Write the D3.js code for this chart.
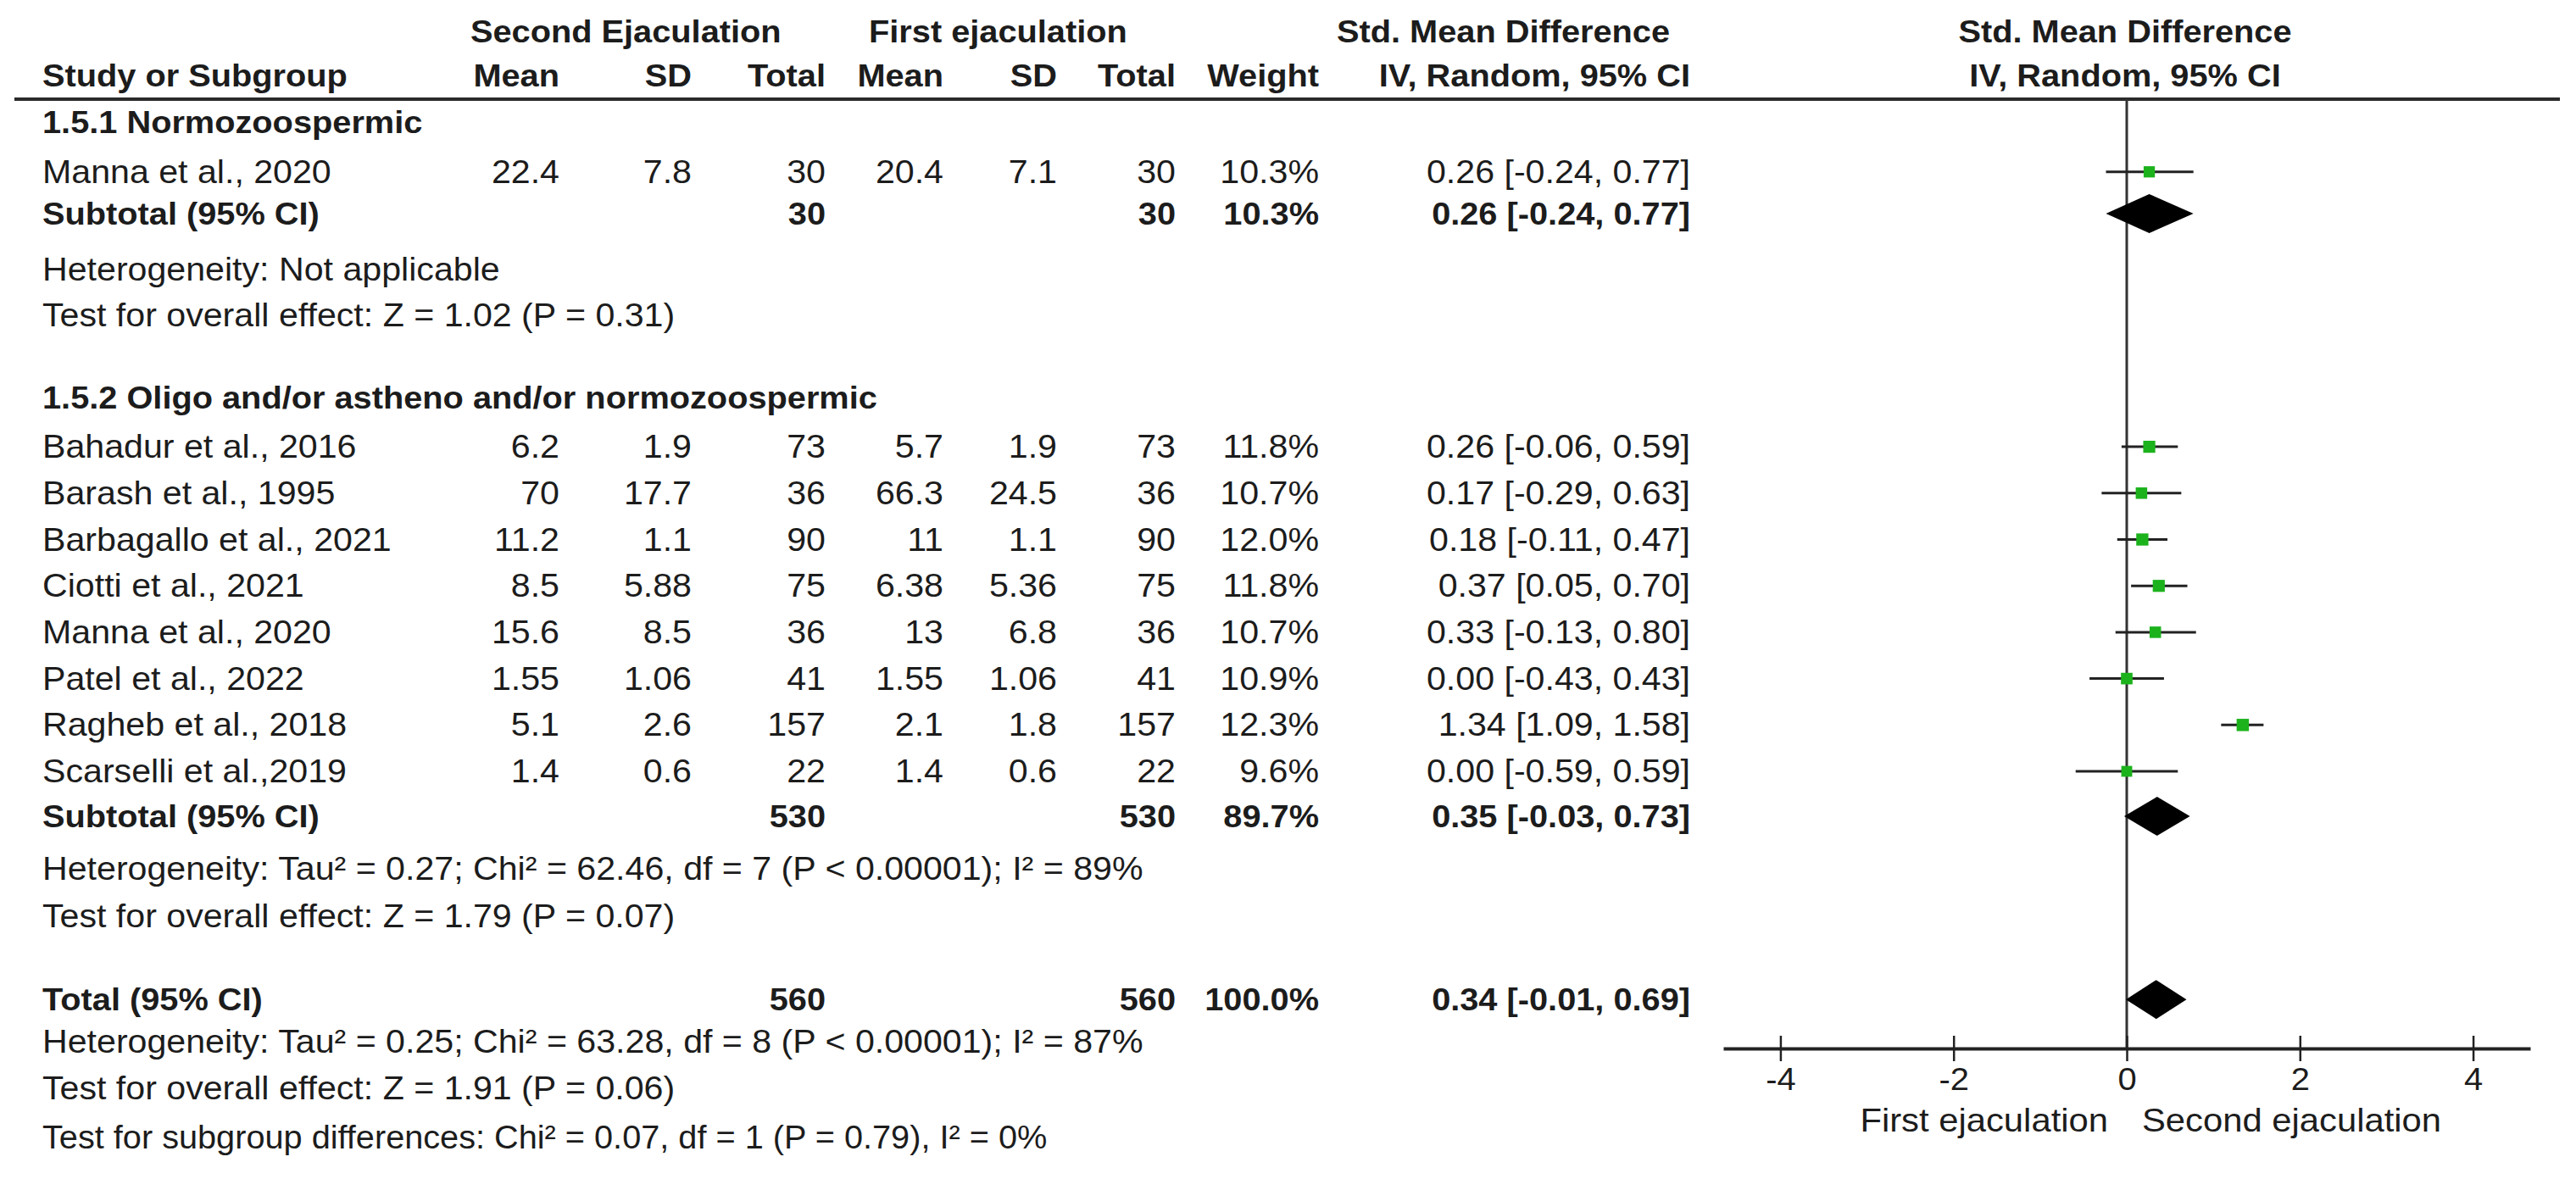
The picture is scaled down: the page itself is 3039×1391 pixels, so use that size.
<!DOCTYPE html>
<html><head><meta charset="utf-8">
<script src="https://cdn.jsdelivr.net/npm/d3@7"></script>
<style>
html,body{margin:0;padding:0;background:#fff;}
svg{display:block;background:#fff;}
text{font-family:"Liberation Sans",Arial,Helvetica,sans-serif;fill:#1c1c1c;}
</style></head><body>
<svg id="chart" width="3039" height="1391"></svg>
<script>
// ---------------- DATA ----------------
const g1Title = "1.5.1 Normozoospermic";
const g1Studies   = ["Manna et al., 2020"];
const g1SecMean   = [22.4];
const g1SecSD     = [7.8];
const g1SecN      = [30];
const g1FirstMean = [20.4];
const g1FirstSD   = [7.1];
const g1FirstN    = [30];
const g1Weight    = [10.3];
const g1SMD       = [0.26];
const g1Lo        = [-0.24];
const g1Hi        = [0.77];
const g1Subtotal  = {secN: 30, firstN: 30, weight: 10.3, smd: 0.26, lo: -0.24, hi: 0.77};
const g1Het  = "Heterogeneity: Not applicable";
const g1Test = "Test for overall effect: Z = 1.02 (P = 0.31)";

const g2Title = "1.5.2 Oligo and/or astheno and/or normozoospermic";
const g2Studies   = ["Bahadur et al., 2016","Barash et al., 1995","Barbagallo et al., 2021","Ciotti et al., 2021","Manna et al., 2020","Patel et al., 2022","Ragheb et al., 2018","Scarselli et al.,2019"];
const g2SecMean   = [6.2, 70, 11.2, 8.5, 15.6, 1.55, 5.1, 1.4];
const g2SecSD     = [1.9, 17.7, 1.1, 5.88, 8.5, 1.06, 2.6, 0.6];
const g2SecN      = [73, 36, 90, 75, 36, 41, 157, 22];
const g2FirstMean = [5.7, 66.3, 11, 6.38, 13, 1.55, 2.1, 1.4];
const g2FirstSD   = [1.9, 24.5, 1.1, 5.36, 6.8, 1.06, 1.8, 0.6];
const g2FirstN    = [73, 36, 90, 75, 36, 41, 157, 22];
const g2Weight    = [11.8, 10.7, 12.0, 11.8, 10.7, 10.9, 12.3, 9.6];
const g2SMD       = [0.26, 0.17, 0.18, 0.37, 0.33, 0.00, 1.34, 0.00];
const g2Lo        = [-0.06, -0.29, -0.11, 0.05, -0.13, -0.43, 1.09, -0.59];
const g2Hi        = [0.59, 0.63, 0.47, 0.70, 0.80, 0.43, 1.58, 0.59];
const g2Subtotal  = {secN: 530, firstN: 530, weight: 89.7, smd: 0.35, lo: -0.03, hi: 0.73};
const g2Het  = "Heterogeneity: Tau\u00B2 = 0.27; Chi\u00B2 = 62.46, df = 7 (P < 0.00001); I\u00B2 = 89%";
const g2Test = "Test for overall effect: Z = 1.79 (P = 0.07)";

const overall = {secN: 560, firstN: 560, weight: 100.0, smd: 0.34, lo: -0.01, hi: 0.69};
const totHet  = "Heterogeneity: Tau\u00B2 = 0.25; Chi\u00B2 = 63.28, df = 8 (P < 0.00001); I\u00B2 = 87%";
const totTest = "Test for overall effect: Z = 1.91 (P = 0.06)";
const subTest = "Test for subgroup differences: Chi\u00B2 = 0.07, df = 1 (P = 0.79), I\u00B2 = 0%";

const headerGroups = ["Second Ejaculation", "First ejaculation", "Std. Mean Difference"];
const headerCols = ["Study or Subgroup","Mean","SD","Total","Mean","SD","Total","Weight","IV, Random, 95% CI"];
const tickValues = [-4, -2, 0, 2, 4];
const axisLeftLabel = "First ejaculation";
const axisRightLabel = "Second ejaculation";

// ---------------- LAYOUT ----------------
const SX = 1.08;             // horizontal stretch of glyphs in the reference
const FS = 38.1, FSB = 36.8;  // regular / bold font sizes
const cols = {name: 50, secMean: 660, secSD: 816, secN: 974, fMean: 1113, fSD: 1247, fN: 1387, w: 1556, ci: 1994};
const slots = {hdr1: 0, hdr2: 0.95, g1hdr: 1.95, g1first: 3.03, sub1: 3.93, het1: 5.14, test1: 6.12,
  g2hdr: 7.9, g2first: 8.96, sub2: 16.93, het2: 18.06, test2: 19.08,
  total: 20.88, het3: 21.8, test3: 22.8, subtest: 23.85};
const lineY = d3.scaleLinear().domain([0, 1]).range([37, 91.7]); // slot -> row centre
const BASE = 13;   // baseline offset below centre
const ruleY = 117, axisY = 1237;

const svg = d3.select("#chart");
const x = d3.scaleLinear().domain([-4.66, 4.66]).range([2033, 2985]);
const sq = d3.scaleSqrt().domain([0, 12.3]).range([0, 14.5]);
const f2 = v => v.toFixed(2);
const ciText = (e, l, h) => `${f2(e)} [${f2(l)}, ${f2(h)}]`;
const wText = w => w.toFixed(1) + "%";

function T(g, xx, yy, s, o = {}) {
  return g.append("text")
    .attr("transform", `translate(${xx},${yy}) scale(${o.sx || SX},1)`)
    .attr("text-anchor", o.anchor || "start")
    .style("font-size", (o.size || (o.bold ? FSB : FS)) + "px")
    .style("font-weight", o.bold ? "bold" : "normal")
    .text(s);
}
const tbl = svg.append("g");
const by = s => lineY(s) + BASE;

// header
T(tbl, 555, by(slots.hdr1), headerGroups[0], {bold: true});
T(tbl, 1025, by(slots.hdr1), headerGroups[1], {bold: true});
T(tbl, 1577, by(slots.hdr1), headerGroups[2], {bold: true});
T(tbl, x(0) - 2, by(slots.hdr1), headerGroups[2], {bold: true, anchor: "middle"});
const hdrX = [cols.name, cols.secMean, cols.secSD, cols.secN, cols.fMean, cols.fSD, cols.fN, cols.w, cols.ci];
headerCols.forEach((h, i) => T(tbl, hdrX[i], by(slots.hdr2), h, {bold: true, anchor: i === 0 ? "start" : "end"}));
T(tbl, x(0) - 2, by(slots.hdr2), headerCols[8], {bold: true, anchor: "middle"});

// rule and zero line
svg.append("line").attr("x1", 17).attr("x2", 3020).attr("y1", ruleY).attr("y2", ruleY)
  .attr("stroke", "#2a2a2a").attr("stroke-width", 4);
svg.append("line").attr("x1", x(0)).attr("x2", x(0)).attr("y1", ruleY).attr("y2", axisY)
  .attr("stroke", "#333").attr("stroke-width", 3);

const plot = svg.append("g");

function studyRows(names, sm, ssd, sn, fm, fsd, fn, w, e, lo, hi, firstSlot) {
  names.forEach((nm, i) => {
    const s = firstSlot + i, yb = by(s), yc = lineY(s);
    T(tbl, cols.name, yb, nm);
    T(tbl, cols.secMean, yb, String(sm[i]), {anchor: "end"});
    T(tbl, cols.secSD, yb, String(ssd[i]), {anchor: "end"});
    T(tbl, cols.secN, yb, String(sn[i]), {anchor: "end"});
    T(tbl, cols.fMean, yb, String(fm[i]), {anchor: "end"});
    T(tbl, cols.fSD, yb, String(fsd[i]), {anchor: "end"});
    T(tbl, cols.fN, yb, String(fn[i]), {anchor: "end"});
    T(tbl, cols.w, yb, wText(w[i]), {anchor: "end"});
    T(tbl, cols.ci, yb, ciText(e[i], lo[i], hi[i]), {anchor: "end"});
    plot.append("line").attr("x1", x(lo[i])).attr("x2", x(hi[i])).attr("y1", yc).attr("y2", yc)
      .attr("stroke", "#222").attr("stroke-width", 3);
    const side = sq(w[i]);
    plot.append("rect").attr("x", x(e[i]) - side / 2).attr("y", yc - side / 2)
      .attr("width", side).attr("height", side).attr("fill", "#1cb21c");
  });
}
function summaryRow(label, d, slot) {
  const yb = by(slot), yc = lineY(slot);
  T(tbl, cols.name, yb, label, {bold: true});
  T(tbl, cols.secN, yb, String(d.secN), {bold: true, anchor: "end"});
  T(tbl, cols.fN, yb, String(d.firstN), {bold: true, anchor: "end"});
  T(tbl, cols.w, yb, wText(d.weight), {bold: true, anchor: "end"});
  T(tbl, cols.ci, yb, ciText(d.smd, d.lo, d.hi), {bold: true, anchor: "end"});
  const hh = 23;
  const pts = [[x(d.lo), yc], [x(d.smd), yc - hh], [x(d.hi), yc], [x(d.smd), yc + hh]];
  plot.append("path").attr("d", d3.line()(pts) + "Z").attr("fill", "#000");
}

// group 1
T(tbl, cols.name, by(slots.g1hdr), g1Title, {bold: true});
studyRows(g1Studies, g1SecMean, g1SecSD, g1SecN, g1FirstMean, g1FirstSD, g1FirstN, g1Weight, g1SMD, g1Lo, g1Hi, slots.g1first);
summaryRow("Subtotal (95% CI)", g1Subtotal, slots.sub1);
T(tbl, cols.name, by(slots.het1), g1Het);
T(tbl, cols.name, by(slots.test1), g1Test);

// group 2
T(tbl, cols.name, by(slots.g2hdr), g2Title, {bold: true});
studyRows(g2Studies, g2SecMean, g2SecSD, g2SecN, g2FirstMean, g2FirstSD, g2FirstN, g2Weight, g2SMD, g2Lo, g2Hi, slots.g2first);
summaryRow("Subtotal (95% CI)", g2Subtotal, slots.sub2);
T(tbl, cols.name, by(slots.het2), g2Het);
T(tbl, cols.name, by(slots.test2), g2Test);

// total
summaryRow("Total (95% CI)", overall, slots.total);
T(tbl, cols.name, by(slots.het3), totHet);
T(tbl, cols.name, by(slots.test3), totTest);
T(tbl, cols.name, by(slots.subtest), subTest, {sx: 1.042});

// axis
const axis = d3.axisBottom(x).tickValues(tickValues).tickSize(15).tickSizeOuter(0).tickPadding(8)
  .tickFormat(d => String(d));
const ag = svg.append("g").attr("transform", `translate(0,${axisY})`).call(axis);
ag.select(".domain").attr("stroke", "#222").attr("stroke-width", 4);
ag.selectAll(".tick line").attr("y1", -15).attr("y2", 15).attr("stroke", "#222").attr("stroke-width", 2.5);
ag.selectAll(".tick text").attr("fill", "#1c1c1c").style("font-size", "37px")
  .style("font-family", '"Liberation Sans",Arial,sans-serif')
  .attr("transform", `scale(${SX},1)`);
T(svg, x(0) - 22, 1335, axisLeftLabel, {anchor: "end", size: 38.7});
T(svg, x(0) + 18, 1335, axisRightLabel, {anchor: "start", size: 38.7});
</script>
</body></html>
